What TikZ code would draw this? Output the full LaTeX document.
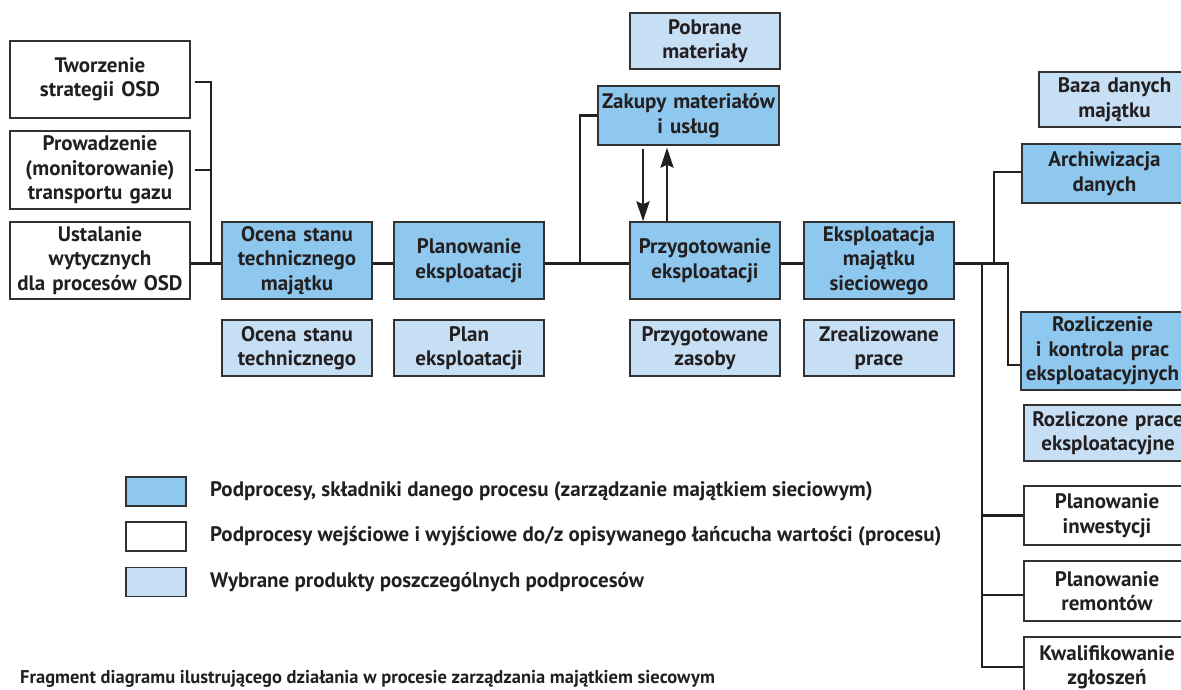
\documentclass[tikz,border=0pt]{standalone}
\usepackage{fontspec}
\setmainfont{PT Sans}
\usetikzlibrary{arrows.meta}
\definecolor{procblue}{RGB}{142,200,238}
\definecolor{prodblue}{RGB}{199,223,245}
\definecolor{bordc}{RGB}{50,50,50}
\definecolor{linec}{RGB}{35,31,32}
\definecolor{txt}{RGB}{35,31,32}
\newcommand{\boxfont}{\fontsize{21}{24.5}\selectfont\bfseries}
\tikzset{
  box/.style={draw=bordc, line width=1.3pt, inner xsep=0pt, inner ysep=0pt, align=center, font=\boxfont, text=txt},
  sz/.style 2 args={text width=#1pt, minimum height=#2pt},
  proc/.style={box, fill=procblue},
  wbox/.style={box, fill=white},
  prod/.style={box, fill=prodblue},
  conn/.style={line width=2.7pt, draw=linec},
  arr/.style={conn, -{Stealth[length=20pt,width=13pt,inset=3pt]}},
  legtext/.style={anchor=west, font=\boxfont, text=txt, inner sep=0pt},
}
\begin{document}
\begin{tikzpicture}[x=1pt,y=-1pt]
\useasboundingbox (0,0) rectangle (1181,689);
\clip (0,0) rectangle (1181,689);
% left white boxes
\node[wbox, sz={180}{77}] (t1) at (100,79.5) {Tworzenie\\strategii OSD};
\node[wbox, sz={180}{78}] (t2) at (100,170) {Prowadzenie\\(monitorowanie)\\transportu gazu};
\node[wbox, sz={180}{77}] (t3) at (100,260.5) {Ustalanie\\wytycznych\\dla procesów OSD};
% main process boxes
\node[proc, sz={150}{77}] (ocena) at (297,260.5) {Ocena stanu\\technicznego\\majątku};
\node[proc, sz={150}{77}] (plan) at (469,260.5) {Planowanie\\eksploatacji};
\node[proc, sz={150}{77}] (przyg) at (705,260.5) {Przygotowanie\\eksploatacji};
\node[proc, sz={150}{77}] (eksp) at (879,260.5) {Eksploatacja\\majątku\\sieciowego};
\node[proc, sz={181}{59}] (zakupy) at (688.5,115.5) {Zakupy materiałów\\i usług};
% products
\node[prod, sz={150}{56}] (ocenaP) at (297,348) {Ocena stanu\\technicznego};
\node[prod, sz={150}{56}] (planP) at (469,348) {Plan\\eksploatacji};
\node[prod, sz={150}{56}] (przygP) at (705,348) {Przygotowane\\zasoby};
\node[prod, sz={150}{56}] (zreal) at (879,348) {Zrealizowane\\prace};
\node[prod, sz={150}{56}] (pobrane) at (705,41) {Pobrane\\materiały};
% right column
\node[prod, sz={151}{55}] (baza) at (1114.5,99.5) {Baza danych\\majątku};
\node[proc, sz={165}{59}] (archiw) at (1104.5,173.5) {Archiwizacja\\danych};
\node[proc, sz={163}{78}] (rozl) at (1102.5,351) {Rozliczenie\\i kontrola prac\\eksploatacyjnych};
\node[prod, sz={168}{56}] (rozlP) at (1108,433) {Rozliczone prace\\eksploatacyjne};
\node[wbox, sz={166}{59}] (pinw) at (1107,515.5) {Planowanie\\inwestycji};
\node[wbox, sz={166}{60}] (prem) at (1107,591) {Planowanie\\remontów};
\node[wbox, sz={166}{60}] (kwal) at (1107,667) {Kwalifikowanie\\zgłoszeń};
% helper coordinates
\coordinate (ml) at (0,263.5);
\coordinate (lv) at (211,0);
\coordinate (j1) at (580,263.5);
\coordinate (a1) at (643,0);
\coordinate (a2) at (667,0);
\coordinate (ru) at (994,263.5);
\coordinate (rd) at (1008,263.5);
\coordinate (rv) at (982,263.5);
% connectors
\draw[conn] ([xshift=4pt]t1.east |- 0,82) -| (lv |- ml);
\draw[conn] ([xshift=4pt]t2.east) -- (lv |- t2.east);
\draw[conn] (t3.east |- ml) -- (ocena.west |- ml);
\draw[conn] (ocena.east |- ml) -- (plan.west |- ml);
\draw[conn] (plan.east |- ml) -- (przyg.west |- ml);
\draw[conn] (przyg.east |- ml) -- (eksp.west |- ml);
\draw[conn] (zakupy.west) -| (j1);
\draw[arr] ([yshift=-3pt]zakupy.south -| a1) -- (przyg.north -| a1);
\draw[arr] (przyg.north -| a2) -- ([yshift=-2pt]zakupy.south -| a2);
\draw[conn] (eksp.east |- ml) -- (rd) |- ([yshift=-14pt]rozl.west);
\draw[conn] (ru) |- ([yshift=1.5pt]archiw.west);
\draw[conn] (rv) |- (kwal.west);
\draw[conn] (rv |- pinw.west) -- (pinw.west);
\draw[conn] ([yshift=-4pt]rv |- prem.west) -- ([yshift=-4pt]prem.west);
% legend
\node[proc, minimum width=60pt, minimum height=29pt, text width=60pt] (l1) at (156,491.5) {};
\node[wbox, minimum width=60pt, minimum height=29pt, text width=60pt] (l2) at (156,536.5) {};
\node[prod, minimum width=60pt, minimum height=29pt, text width=60pt] (l3) at (156,582) {};
\node[legtext] (lt1) at (210,491.5) {Podprocesy, składniki danego procesu (zarządzanie majątkiem sieciowym)};
\node[legtext] (lt2) at (210,536.5) {Podprocesy wejściowe i wyjściowe do/z opisywanego łańcucha wartości (procesu)};
\node[legtext] (lt3) at (210,582) {Wybrane produkty poszczególnych podprocesów};
% caption
\node[anchor=base west, inner sep=0pt, font=\fontsize{18.5}{21}\selectfont\bfseries, text=txt] (cap) at (20,683) {Fragment diagramu ilustrującego działania w procesie zarządzania majątkiem siecowym};
\end{tikzpicture}
\end{document}
